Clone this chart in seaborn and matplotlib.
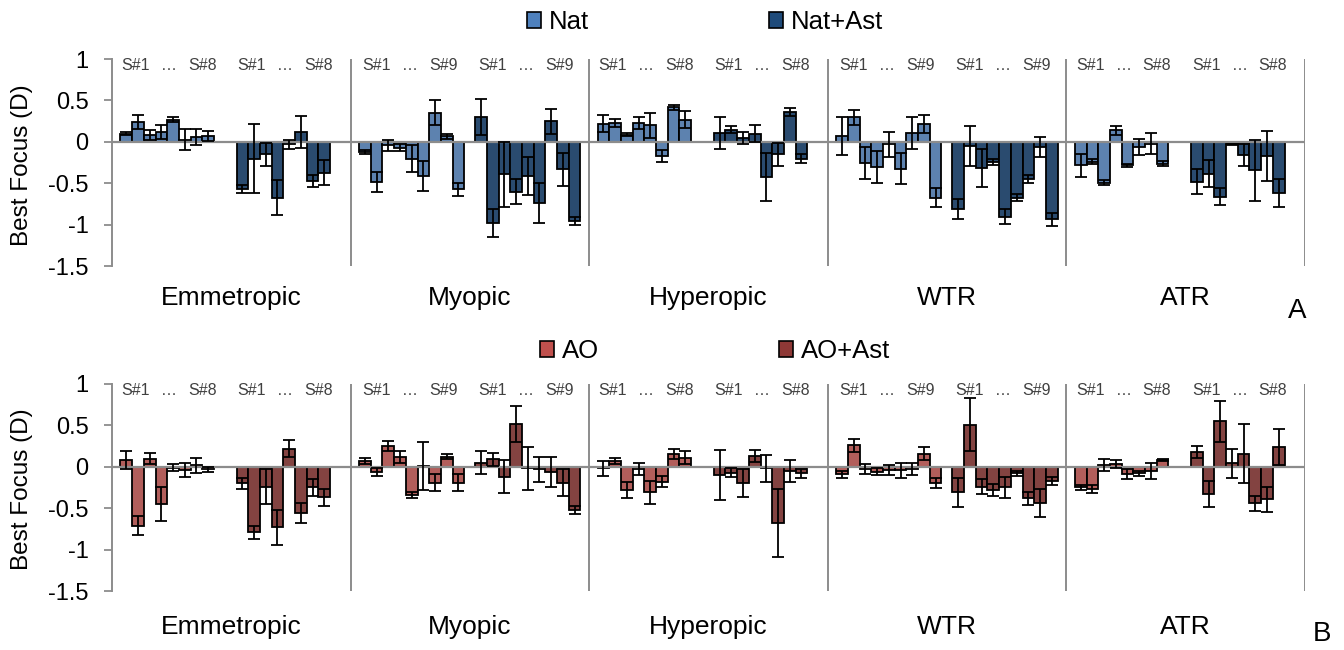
import numpy as np
import pandas as pd
import matplotlib
matplotlib.use("Agg")
import matplotlib.pyplot as plt
from matplotlib.patches import Patch
import seaborn as sns

# ---- data -------------------------------------------------------------
groups = ["Emmetropic", "Myopic", "Hyperopic", "WTR", "ATR"]
n_subjects = [8, 9, 8, 9, 8]

# Panel A: natural aberrations, with and without added astigmatism
nat_mean = [
    [0.10, 0.24, 0.08, 0.12, 0.27, 0.03, 0.06, 0.07],
    [-0.12, -0.48, -0.04, -0.07, -0.20, -0.41, 0.35, 0.07, -0.57],
    [0.22, 0.23, 0.09, 0.23, 0.20, -0.17, 0.42, 0.27],
    [0.07, 0.30, -0.25, -0.30, -0.03, -0.32, 0.11, 0.22, -0.67],
    [-0.28, -0.24, -0.49, 0.14, -0.28, -0.06, -0.02, -0.26],
]
nat_err = [
    [0.02, 0.08, 0.06, 0.08, 0.03, 0.13, 0.10, 0.06],
    [0.02, 0.12, 0.07, 0.04, 0.16, 0.18, 0.15, 0.03, 0.08],
    [0.10, 0.05, 0.02, 0.07, 0.15, 0.07, 0.03, 0.10],
    [0.23, 0.09, 0.19, 0.19, 0.15, 0.19, 0.19, 0.11, 0.11],
    [0.14, 0.03, 0.03, 0.05, 0.02, 0.10, 0.13, 0.03],
]
nat_ast_mean = [
    [-0.57, -0.20, -0.15, -0.67, -0.03, 0.12, -0.47, -0.37],
    [0.30, -0.98, -0.39, -0.60, -0.41, -0.73, 0.25, -0.33, -0.95],
    [0.11, 0.15, 0.05, 0.10, -0.42, -0.15, 0.36, -0.20],
    [-0.81, -0.05, -0.31, -0.24, -0.90, -0.67, -0.45, -0.06, -0.93],
    [-0.48, -0.38, -0.66, -0.03, -0.16, -0.34, -0.17, -0.61],
]
nat_ast_err = [
    [0.05, 0.42, 0.14, 0.21, 0.06, 0.19, 0.07, 0.15],
    [0.22, 0.17, 0.39, 0.15, 0.23, 0.24, 0.15, 0.20, 0.05],
    [0.19, 0.04, 0.07, 0.10, 0.29, 0.14, 0.05, 0.05],
    [0.12, 0.24, 0.23, 0.04, 0.09, 0.04, 0.05, 0.12, 0.08],
    [0.15, 0.16, 0.10, 0.01, 0.13, 0.37, 0.30, 0.17],
]

# Panel B: aberrations corrected (AO), with and without added astigmatism
ao_mean = [
    [0.085, -0.71, 0.10, -0.45, -0.01, -0.04, 0.02, -0.03],
    [0.07, -0.06, 0.25, 0.12, -0.34, 0.01, -0.19, 0.12, -0.19],
    [-0.02, 0.07, -0.28, -0.03, -0.31, -0.18, 0.15, 0.11],
    [-0.09, 0.26, -0.03, -0.06, -0.04, -0.04, -0.03, 0.16, -0.20],
    [-0.25, -0.27, 0.02, 0.03, -0.09, -0.08, -0.05, 0.08],
]
ao_err = [
    [0.11, 0.11, 0.07, 0.21, 0.04, 0.08, 0.09, 0.03],
    [0.04, 0.05, 0.06, 0.07, 0.04, 0.29, 0.10, 0.03, 0.10],
    [0.09, 0.04, 0.10, 0.07, 0.14, 0.07, 0.06, 0.08],
    [0.04, 0.08, 0.06, 0.04, 0.06, 0.09, 0.07, 0.08, 0.06],
    [0.03, 0.05, 0.07, 0.05, 0.06, 0.03, 0.10, 0.01],
]
ao_ast_mean = [
    [-0.20, -0.79, -0.24, -0.73, 0.22, -0.56, -0.25, -0.37],
    [0.05, 0.09, -0.12, 0.52, -0.02, -0.03, -0.06, -0.19, -0.52],
    [-0.10, -0.07, -0.20, 0.13, -0.02, -0.68, -0.05, -0.08],
    [-0.31, 0.51, -0.24, -0.28, -0.25, -0.08, -0.38, -0.44, -0.17],
    [0.18, -0.33, 0.55, 0.04, 0.16, -0.44, -0.39, 0.24],
]
ao_ast_err = [
    [0.07, 0.08, 0.21, 0.21, 0.10, 0.12, 0.10, 0.10],
    [0.14, 0.08, 0.20, 0.22, 0.26, 0.15, 0.18, 0.16, 0.05],
    [0.30, 0.05, 0.17, 0.07, 0.16, 0.41, 0.13, 0.05],
    [0.18, 0.32, 0.09, 0.07, 0.13, 0.03, 0.08, 0.17, 0.05],
    [0.07, 0.16, 0.25, 0.18, 0.36, 0.09, 0.15, 0.22],
]

y_ticks = [1, 0.5, 0, -0.5, -1, -1.5]

# ---- layout constants (x in bar-slot units) --------------------------
GROUP_W = 20.4
FIRST_START = 0.72
SECOND_START = 10.65

COL_NAT = "#4F81BD"
COL_NAT_AST = "#1F4B7A"
COL_AO = "#C0504D"
COL_AO_AST = "#8E3836"
GRAY = "#8C8C8C"

sns.set_theme(style="white")
plt.rcParams["font.family"] = ["Liberation Sans", "DejaVu Sans"]
plt.rcParams["text.color"] = "black"
plt.rcParams["axes.labelcolor"] = "black"
plt.rcParams["ytick.color"] = "black"
plt.rcParams["legend.labelcolor"] = "black"


def build_frame(mean_a, err_a, mean_b, err_b, name_a, name_b):
    rows = []
    for g, n in enumerate(n_subjects):
        for start, means, errs, name in ((FIRST_START, mean_a, err_a, name_a),
                                         (SECOND_START, mean_b, err_b, name_b)):
            for i in range(n):
                rows.append({"pos": round(g * GROUP_W + start + i + 0.5, 4),
                             "value": means[g][i], "err": errs[g][i],
                             "series": name})
    return pd.DataFrame(rows)


def draw_panel(ax, df, names, colors, cat_y):
    sns.barplot(data=df, x="pos", y="value", hue="series",
                hue_order=names, palette=dict(zip(names, colors)),
                native_scale=True, dodge=False, width=1.0,
                edgecolor="black", linewidth=1.3, errorbar=None,
                legend=False, ax=ax, zorder=2)
    ax.errorbar(df["pos"], df["value"], yerr=df["err"], fmt="none",
                ecolor="black", elinewidth=1.3, capsize=4, capthick=1.3,
                zorder=4)
    ax.axhline(0, color=GRAY, lw=1.6, zorder=3)
    total = GROUP_W * len(groups)
    for k in range(1, len(groups) + 1):
        ax.axvline(k * GROUP_W, color=GRAY, lw=1.4, zorder=1)
    ax.set_xlim(0, total)
    ax.set_ylim(-1.5, 1)
    ax.set_yticks(y_ticks)
    ax.set_yticklabels([f"{t:g}" for t in y_ticks], fontsize=17, color="black")
    ax.set_xticks([])
    ax.set_xlabel("")
    ax.set_ylabel("Best Focus (D)", fontsize=17.5, color="black")
    ax.yaxis.set_label_coords(-0.066, 0.49)
    ax.tick_params(axis="y", which="both", left=True, direction="out",
                   length=6, width=1.3, color=GRAY, pad=11, labelcolor="black")
    for side in ("top", "right", "bottom"):
        ax.spines[side].set_visible(False)
    ax.spines["left"].set_color(GRAY)
    ax.spines["left"].set_linewidth(1.4)
    ax.set_facecolor("white")

    # subject range markers above each series, and group names below
    for g, n in enumerate(n_subjects):
        for start in (FIRST_START, SECOND_START):
            left = g * GROUP_W + start
            first_x = left + 1.3 + 0.2 * (n - 8)
            for x, s in ((first_x, "S#1"), (first_x + 2.85, "\u2026"),
                         (first_x + 5.7, f"S#{n}")):
                ax.text(x, 0.92, s, ha="center", va="center", fontsize=11.5,
                        color="#404040")
        ax.text((g + 0.5) * GROUP_W, cat_y, groups[g], ha="center",
                va="center", fontsize=19, color="black",
                transform=ax.get_xaxis_transform(), clip_on=False)


fig = plt.figure(figsize=(13.44, 6.5), dpi=100)
fig.patch.set_facecolor("white")
L, R = 112 / 1344, 1305 / 1344
ax_a = fig.add_axes([L, 1 - 266.5 / 650, R - L, 207.5 / 650])
ax_b = fig.add_axes([L, 1 - 591 / 650, R - L, 207 / 650])

df_a = build_frame(nat_mean, nat_err, nat_ast_mean, nat_ast_err, "Nat", "Nat+Ast")
df_b = build_frame(ao_mean, ao_err, ao_ast_mean, ao_ast_err, "AO", "AO+Ast")

draw_panel(ax_a, df_a, ["Nat", "Nat+Ast"], [COL_NAT, COL_NAT_AST], -0.15)
draw_panel(ax_b, df_b, ["AO", "AO+Ast"], [COL_AO, COL_AO_AST], -0.174)

legend_kw = dict(loc="center", ncol=2, frameon=False, fontsize=18.5,
                 handlelength=0.55, handleheight=0.55, handletextpad=0.3,
                 columnspacing=7.0, borderpad=0, labelcolor="black")
fig.legend(handles=[Patch(facecolor=COL_NAT, edgecolor="black", lw=1.2, label="Nat"),
                    Patch(facecolor=COL_NAT_AST, edgecolor="black", lw=1.2, label="Nat+Ast")],
           bbox_to_anchor=(705 / 1344, 1 - 22 / 650), **legend_kw)
fig.legend(handles=[Patch(facecolor=COL_AO, edgecolor="black", lw=1.2, label="AO"),
                    Patch(facecolor=COL_AO_AST, edgecolor="black", lw=1.2, label="AO+Ast")],
           bbox_to_anchor=(715 / 1344, 1 - 351 / 650), **legend_kw)

fig.text(1297 / 1344, 1 - 311 / 650, "A", fontsize=20, ha="center", va="center")
fig.text(1322 / 1344, 1 - 634 / 650, "B", fontsize=20, ha="center", va="center")

fig.savefig("out.png", dpi=100, facecolor="white")
